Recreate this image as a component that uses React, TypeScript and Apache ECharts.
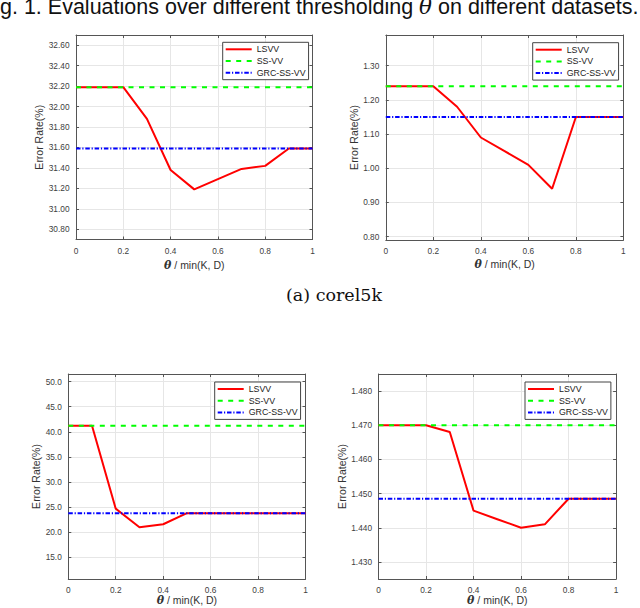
import React, { useEffect, useRef } from 'react';
import * as echarts from 'echarts';

// ---------- data ----------
const thetas = [0, 0.1, 0.2, 0.3, 0.4, 0.5, 0.6, 0.7, 0.8, 0.9, 1];
const seriesNames = ['LSVV', 'SS-VV', 'GRC-SS-VV'];

// panel A (top-left)
const lsvvA = [32.19, 32.19, 32.19, 31.88, 31.38, 31.19, 31.29, 31.39, 31.42, 31.59, 31.59];
const ssvvA = 32.19;
const grcA = 31.59;
const yTicksA = [30.8, 31.0, 31.2, 31.4, 31.6, 31.8, 32.0, 32.2, 32.4, 32.6];

// panel B (top-right)
const lsvvB = [1.24, 1.24, 1.24, 1.18, 1.09, 1.05, 1.01, 0.94, 1.15, 1.15, 1.15];
const ssvvB = 1.24;
const grcB = 1.15;
const yTicksB = [0.8, 0.9, 1.0, 1.1, 1.2, 1.3];

// panel C (bottom-left)
const lsvvC = [41.2, 41.2, 24.7, 21.0, 21.6, 23.8, 23.8, 23.8, 23.8, 23.8, 23.8];
const ssvvC = 41.2;
const grcC = 23.8;
const yTicksC = [15, 20, 25, 30, 35, 40, 45, 50];

// panel D (bottom-right)
const lsvvD = [1.47, 1.47, 1.47, 1.468, 1.445, 1.4425, 1.44, 1.441, 1.4485, 1.4485, 1.4485];
const ssvvD = 1.47;
const grcD = 1.4485;
const yTicksD = [1.43, 1.44, 1.45, 1.46, 1.47, 1.48];

const yRanges = [
  [30.7, 32.7],
  [0.79, 1.39],
  [10.7, 51.5],
  [1.425, 1.485],
];

// ---------- layout ----------
const panels = [
  { lsvv: lsvvA, ssvv: ssvvA, grc: grcA, yTicks: yTicksA, dec: 2, grid: { left: 76, top: 35, width: 236.5, height: 204.5 }, yGap: 31.4, xGap: 20, legend: { left: 222.7, top: 42.3 } },
  { lsvv: lsvvB, ssvv: ssvvB, grc: grcB, yTicks: yTicksB, dec: 2, grid: { left: 385.8, top: 35, width: 237.6, height: 205 }, yGap: 25.4, xGap: 18.5, legend: { left: 532.7, top: 42.7 } },
  { lsvv: lsvvC, ssvv: ssvvC, grc: grcC, yTicks: yTicksC, dec: 1, grid: { left: 68.3, top: 374, width: 237.2, height: 205 }, yGap: 26.4, xGap: 15, legend: { left: 214.7, top: 382 } },
  { lsvv: lsvvD, ssvv: ssvvD, grc: grcD, yTicks: yTicksD, dec: 3, grid: { left: 378.5, top: 374, width: 237.6, height: 205 }, yGap: 31.3, xGap: 15, legend: { left: 525, top: 382 } },
];

const FONT = '"Liberation Sans", Arial, Helvetica, sans-serif';
const AXIS_COLOR = '#555555';
const LABEL_COLOR = '#404040';
const GRID_COLOR = '#e6e6e6';

function buildOption() {
  const grids: any[] = [];
  const xAxes: any[] = [];
  const yAxes: any[] = [];
  const series: any[] = [];
  const legends: any[] = [];

  panels.forEach((p, i) => {
    grids.push({ ...p.grid, containLabel: false, show: false });
    const [ymin, ymax] = yRanges[i];

    // bottom x axis
    xAxes.push({
      type: 'value', gridIndex: i, position: 'bottom', min: 0, max: 1, interval: 0.2,
      name: '{t|θ} / min(K, D)', nameLocation: 'middle', nameGap: p.xGap,
      nameTextStyle: {
        fontSize: 10.5, color: '#333', fontFamily: FONT,
        rich: { t: { fontSize: 11, fontStyle: 'italic', fontWeight: 'bold', fontFamily: '"DejaVu Serif", serif', color: '#333' } },
      },
      axisLine: { show: true, onZero: false, lineStyle: { color: AXIS_COLOR, width: 1 } },
      axisTick: { show: true, inside: true, length: 3, lineStyle: { color: AXIS_COLOR } },
      axisLabel: { show: true, fontSize: 8.3, color: LABEL_COLOR, fontFamily: FONT, margin: 7, formatter: (v: number) => String(+v.toFixed(1)) },
      splitLine: { show: true, lineStyle: { color: GRID_COLOR, width: 1 } },
    });
    // top x axis (box + ticks)
    xAxes.push({
      type: 'value', gridIndex: i, position: 'top', min: 0, max: 1, interval: 0.2,
      axisLine: { show: true, onZero: false, lineStyle: { color: AXIS_COLOR, width: 1 } },
      axisTick: { show: true, inside: true, length: 3, lineStyle: { color: AXIS_COLOR } },
      axisLabel: { show: false },
      splitLine: { show: false },
    });
    // left y axis
    yAxes.push({
      type: 'value', gridIndex: i, position: 'left', min: ymin, max: ymax,
      name: 'Error Rate(%)', nameLocation: 'middle', nameGap: p.yGap, nameRotate: 90,
      nameTextStyle: { fontSize: 10.5, color: '#333', fontFamily: FONT },
      axisLine: { show: true, onZero: false, lineStyle: { color: AXIS_COLOR, width: 1 } },
      axisTick: { show: true, inside: true, length: 3, lineStyle: { color: AXIS_COLOR }, customValues: p.yTicks },
      axisLabel: { show: true, fontSize: 8.3, color: LABEL_COLOR, fontFamily: FONT, margin: 6.5, customValues: p.yTicks, formatter: (v: number) => v.toFixed(p.dec) },
      splitLine: { show: true, lineStyle: { color: GRID_COLOR, width: 1 } },
    });
    // right y axis (box + ticks)
    yAxes.push({
      type: 'value', gridIndex: i, position: 'right', min: ymin, max: ymax,
      axisLine: { show: true, onZero: false, lineStyle: { color: AXIS_COLOR, width: 1 } },
      axisTick: { show: true, inside: true, length: 3, lineStyle: { color: AXIS_COLOR }, customValues: p.yTicks },
      axisLabel: { show: false, customValues: p.yTicks },
      splitLine: { show: false },
    });

    const xi = i * 2;
    const yi = i * 2;
    series.push({
      name: 'LSVV', type: 'line', xAxisIndex: xi, yAxisIndex: yi, symbol: 'none', showSymbol: false,
      data: thetas.map((t, k) => [t, p.lsvv[k]]),
      lineStyle: { color: '#ff0000', width: 2, type: 'solid' }, itemStyle: { color: '#ff0000' },
    });
    series.push({
      name: 'SS-VV', type: 'line', xAxisIndex: xi, yAxisIndex: yi, symbol: 'none', showSymbol: false,
      data: [[thetas[0], p.ssvv], [thetas[thetas.length - 1], p.ssvv]],
      lineStyle: { color: '#00ff00', width: 2, type: [5, 5.5] }, itemStyle: { color: '#00ff00' },
    });
    series.push({
      name: 'GRC-SS-VV', type: 'line', xAxisIndex: xi, yAxisIndex: yi, symbol: 'none', showSymbol: false,
      data: [[thetas[0], p.grc], [thetas[thetas.length - 1], p.grc]],
      lineStyle: { color: '#0000ff', width: 2, type: [4.5, 1.8, 1.2, 1.8] }, itemStyle: { color: '#0000ff' },
    });

    legends.push({
      data: seriesNames, orient: 'vertical', left: p.legend.left, top: p.legend.top,
      padding: [2, 3, 2, 2], itemGap: 1.7, itemWidth: 26, itemHeight: 8,
      borderColor: '#444', borderWidth: 1, backgroundColor: '#ffffff', selectedMode: false,
      itemStyle: { opacity: 0, borderWidth: 0 },
      textStyle: { fontSize: 8.8, color: '#222', fontFamily: FONT, lineHeight: 10 },
    });
  });

  return {
    animation: false,
    backgroundColor: '#ffffff',
    grid: grids,
    xAxis: xAxes,
    yAxis: yAxes,
    series,
    legend: legends,
    graphic: [
      {
        type: 'text', x: 0, y: 6.5, silent: true,
        style: {
          text: 'g. 1. Evaluations over different thresholding {t|θ} on different datasets.',
          fontSize: 21.5, fontFamily: FONT, fill: '#111', verticalAlign: 'middle', align: 'left',
          rich: { t: { fontSize: 21.5, fontStyle: 'italic', fontFamily: '"DejaVu Serif", serif', fill: '#111' } },
        },
      },
      {
        type: 'text', x: 334, y: 295, silent: true,
        style: { text: '(a) corel5k', fontSize: 17.5, fontFamily: '"DejaVu Serif", serif', fill: '#111', align: 'center', verticalAlign: 'middle' },
      },
    ],
  };
}

export default function App() {
  const ref = useRef<HTMLDivElement>(null);
  useEffect(() => {
    if (!ref.current) return;
    const chart = echarts.init(ref.current, undefined, { renderer: 'svg', width: 640, height: 608 });
    chart.setOption(buildOption() as any);
    return () => chart.dispose();
  }, []);
  return (
    <div
      ref={ref}
      style={{ position: 'fixed', left: 0, top: 0, width: 640, height: 608, background: '#fff' }}
    />
  );
}
